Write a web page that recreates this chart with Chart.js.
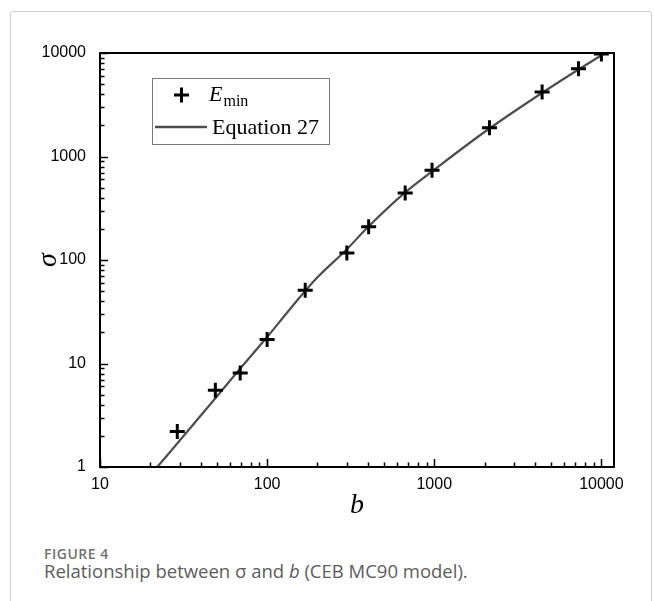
<!DOCTYPE html>
<html>
<head>
<meta charset="utf-8">
<script src="https://cdn.jsdelivr.net/npm/chart.js@4.4.0/dist/chart.umd.min.js"></script>
<style>
  html, body { margin: 0; padding: 0; background: #fff; }
  body { width: 654px; height: 601px; position: relative; overflow: hidden; }
  .card { position: absolute; left: 10px; top: 11px; width: 642px; height: 640px;
          border: 1px solid #cfcfcf; border-radius: 3px; box-sizing: border-box; }
  #wrap { position: absolute; left: 0; top: 0; width: 654px; height: 530px; }
  .fig { position: absolute; left: 44px; top: 544px; font-family: 'Open Sans', sans-serif;
         font-size: 14px; line-height: 19px; font-weight: 600; color: #707070; letter-spacing: 0.5px; }
  .cap { position: absolute; left: 44px; top: 558px; font-family: 'Open Sans', sans-serif;
         font-size: 18.5px; line-height: 25px; color: #5c5c5c; white-space: nowrap; }
</style>
</head>
<body>
<div class="card"></div>
<div id="wrap"><canvas id="sigmaChart" width="654" height="530"></canvas></div>
<div class="fig">FIGURE 4</div>
<div class="cap">Relationship between σ and <i>b</i> (CEB MC90 model).</div>
<script>
// E_min points
const bPoints = [29, 49, 69, 100, 169, 300, 405, 670, 970, 2140, 4420, 7300, 10000];
const sigmaPoints = [2.2, 5.5, 8.1, 17.1, 51, 117, 209, 444, 736, 1900, 4200, 7060, 9800];

// Equation 27 curve
const bCurve = [22, 30, 50, 70, 100, 140, 200, 300, 400, 670, 1000, 2000, 5000, 10500];
const sigmaCurve = [1, 1.8, 4.8, 9.2, 18, 35, 68, 127, 207, 450, 745, 1725, 4690, 10000];

const xTicks = [10, 100, 1000, 10000];
const yTicks = [1, 10, 100, 1000, 10000];

const tickFont = { family: "'Liberation Sans', Arial, sans-serif", size: 16 };
const serif = "'Liberation Serif', 'Times New Roman', serif";

// inward ticks + frame
const axisFrame = {
    id: 'axisFrame',
    afterDatasetsDraw(chart) {
        const { ctx, chartArea: a, scales: { x, y } } = chart;
        ctx.save();
        ctx.strokeStyle = '#000';
        ctx.lineWidth = 1.5;
        for (let d = 1; d <= 4; d++) {
            for (let k = 1; k <= 9; k++) {
                const v = k * Math.pow(10, d);
                if (v > x.max) break;
                const px = Math.round(x.getPixelForValue(v)) + 0.5;
                const len = k === 1 ? 8 : 4.5;
                ctx.beginPath();
                ctx.moveTo(px, a.bottom);
                ctx.lineTo(px, a.bottom - len);
                ctx.stroke();
            }
        }
        for (let d = 0; d <= 4; d++) {
            for (let k = 1; k <= 9; k++) {
                const v = k * Math.pow(10, d);
                if (v > y.max) break;
                const py = Math.round(y.getPixelForValue(v)) + 0.5;
                const len = k === 1 ? 8 : 4.5;
                ctx.beginPath();
                ctx.moveTo(a.left, py);
                ctx.lineTo(a.left + len, py);
                ctx.stroke();
            }
        }
        ctx.lineWidth = 2;
        ctx.strokeRect(a.left, a.top, a.width, a.height);
        ctx.restore();
    }
};

// legend box with subscript
const legendBox = {
    id: 'legendBox',
    afterDraw(chart) {
        const { ctx, chartArea: a } = chart;
        const lx = a.left + 52, ly = a.top + 25, w = 177, h = 66;
        ctx.save();
        ctx.fillStyle = '#fff';
        ctx.fillRect(lx, ly, w, h);
        ctx.strokeStyle = '#7a7a7a';
        ctx.lineWidth = 1;
        ctx.strokeRect(lx + 0.5, ly + 0.5, w, h);

        // marker
        ctx.strokeStyle = '#000';
        ctx.lineWidth = 3;
        ctx.beginPath();
        ctx.moveTo(lx + 22, ly + 17); ctx.lineTo(lx + 37, ly + 17);
        ctx.moveTo(lx + 29.5, ly + 9.5); ctx.lineTo(lx + 29.5, ly + 24.5);
        ctx.stroke();

        ctx.fillStyle = '#000';
        ctx.textBaseline = 'alphabetic';
        ctx.font = 'italic 22px ' + serif;
        ctx.fillText('E', lx + 57, ly + 23);
        const ew = ctx.measureText('E').width;
        ctx.font = '16px ' + serif;
        ctx.fillText('min', lx + 57 + ew + 1, ly + 28);

        // line sample
        ctx.strokeStyle = '#4d4d4d';
        ctx.lineWidth = 2.5;
        ctx.beginPath();
        ctx.moveTo(lx + 3, ly + 49); ctx.lineTo(lx + 55, ly + 49);
        ctx.stroke();
        ctx.font = '22px ' + serif;
        ctx.fillText('Equation 27', lx + 60, ly + 56);
        ctx.restore();
    }
};

const ctx = document.getElementById('sigmaChart');
new Chart(ctx, {
    type: 'scatter',
    data: {
        datasets: [{
            label: 'Emin',
            data: bPoints.map((b, i) => ({ x: b, y: sigmaPoints[i] })),
            pointStyle: 'cross',
            pointRadius: 7.5,
            pointHoverRadius: 7.5,
            borderColor: '#000',
            backgroundColor: '#000',
            borderWidth: 3,
            pointBorderWidth: 3
        }, {
            label: 'Equation 27',
            data: bCurve.map((b, i) => ({ x: b, y: sigmaCurve[i] })),
            showLine: true,
            pointRadius: 0,
            borderColor: '#4d4d4d',
            borderWidth: 2.2,
            cubicInterpolationMode: 'monotone'
        }]
    },
    options: {
        responsive: false,
        animation: false,
        events: [],
        layout: { padding: { left: 0, right: 40, top: 53, bottom: 0 } },
        plugins: {
            legend: { display: false },
            tooltip: { enabled: false }
        },
        scales: {
            x: {
                type: 'logarithmic',
                position: 'bottom',
                min: 10,
                max: 11900,
                grid: { display: false, drawTicks: false },
                border: { display: false },
                afterBuildTicks: s => { s.ticks = xTicks.map(v => ({ value: v })); },
                afterFit: s => { s.height = 63; },
                ticks: {
                    font: tickFont,
                    color: '#000',
                    padding: 8,
                    maxRotation: 0,
                    autoSkip: false,
                    callback: v => String(v)
                },
                title: {
                    display: true,
                    text: 'b',
                    color: '#000',
                    font: { family: serif, style: 'italic', size: 28 },
                    padding: { top: 0, bottom: 8 }
                }
            },
            y: {
                type: 'logarithmic',
                min: 1,
                max: 10000,
                grid: { display: false, drawTicks: false },
                border: { display: false },
                afterBuildTicks: s => { s.ticks = yTicks.map(v => ({ value: v })); },
                afterFit: s => { s.width = 100; },
                ticks: {
                    font: tickFont,
                    color: '#000',
                    padding: 14,
                    autoSkip: false,
                    callback: v => String(v)
                },
                title: {
                    display: true,
                    text: 'σ',
                    color: '#000',
                    font: { family: serif, style: 'italic', size: 28 },
                    padding: { top: 32, bottom: 0 }
                }
            }
        }
    },
    plugins: [axisFrame, legendBox]
});
</script>
</body>
</html>
